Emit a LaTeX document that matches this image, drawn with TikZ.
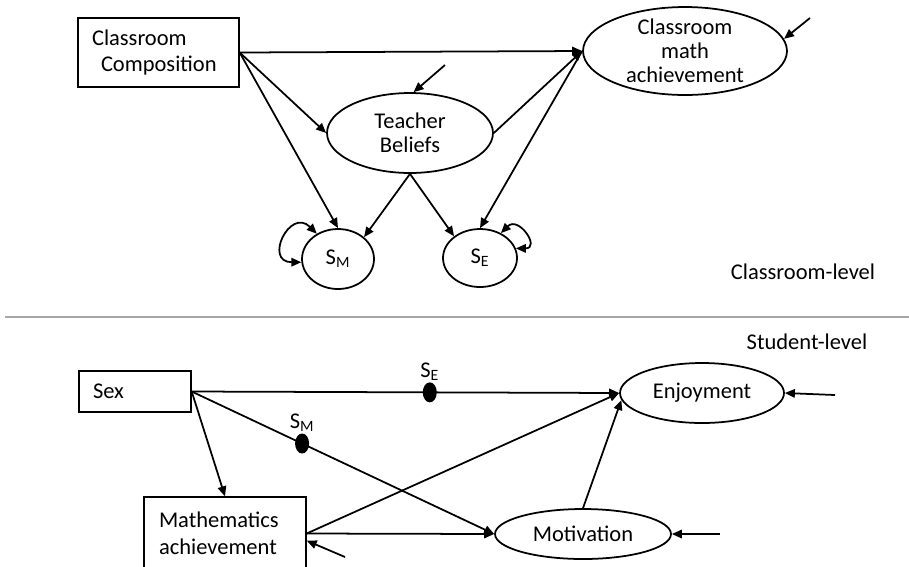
\documentclass[tikz,border=0pt]{standalone}
\usepackage{fontspec}
\setmainfont{Carlito}
\usetikzlibrary{shapes.geometric, arrows.meta}

\tikzset{
  every node/.style={font=\fontsize{12.8}{13.6}\selectfont},
  box/.style={draw, line width=0.8pt, rectangle, align=left, inner ysep=0pt,
    font=\fontsize{12.8}{15.3}\selectfont},
  oval/.style={draw, line width=1pt, ellipse, inner sep=0pt, align=center},
  arr/.style={line width=1pt, -{Triangle[length=0.2cm,width=0.17cm]}},
  dbl/.style={line width=1pt, {Triangle[length=0.2cm,width=0.17cm]}-{Triangle[length=0.2cm,width=0.17cm]}},
  dot/.style={ellipse, fill=black, inner sep=0pt, minimum width=0.28cm, minimum height=0.4cm},
}

\begin{document}
\begin{tikzpicture}[x=0.02cm, y=-0.02cm]
    \useasboundingbox (0,0) rectangle (909,566);
    \clip (0,0) rectangle (909,566);

    % Classroom-level
    \node[box, minimum height=1.38cm, inner xsep=0.28cm, text width=2.66cm] (cc) at (158.5,52.5) {Classroom\\\hspace*{0.18cm}Composition};
    \node[oval, minimum width=3.32cm, minimum height=1.6cm] (tb) at (410,133) {Teacher\\Beliefs};
    \node[oval, minimum width=4.08cm, minimum height=1.76cm, inner ysep=-5pt] (cma) at (685,51) {Classroom\\math\\achievement};
    \node[oval, minimum width=1.44cm, minimum height=1.2cm] (sm) at (338,259) {S\textsubscript{M}};
    \node[oval, minimum width=1.48cm, minimum height=1.16cm] (se) at (480,258) {S\textsubscript{E}};
    \node (lblclass) at (803,272) {Classroom-level};

    \draw[arr] (cc.east) -- (cma.west);
    \draw[arr] (cc.east) -- (tb.west);
    \draw[arr] (cc.east) -- (sm.north);
    \draw[arr] (tb.east) -- (cma.west);
    \draw[arr] (cma.west) -- (se.north);
    \draw[arr] (tb.south) -- (sm.40);
    \draw[arr] (tb.south) -- (se.140);

    % variances of the slopes
    \draw[dbl] (sm.130) to[out=135, in=180, looseness=3] (sm.185);
    \draw[dbl] (se.50) to[out=45, in=0, looseness=3] (se.15);

    % residuals
    \coordinate (dtb) at (445,65);
    \coordinate (dcma) at (810,18);
    \draw[arr] (dtb) -- (tb.85);
    \draw[arr] (dcma) -- (cma.7);

    \draw[gray!70, line width=0.7pt] (5,317) -- (909,317);

    % Student-level
    \node (lblstudent) at (807,342) {Student-level};
    \node[box, minimum height=0.82cm, inner xsep=0.28cm, text width=1.68cm] (sex) at (135,391.5) {Sex};
    \node[box, minimum height=1.46cm, inner xsep=0.3cm, text width=2.64cm] (math) at (225,533.5) {Mathematics\\achievement};
    \node[oval, minimum width=3.28cm, minimum height=1.2cm] (enj) at (702,393) {Enjoyment};
    \node[oval, minimum width=3.52cm, minimum height=1.0cm] (mot) at (583,534) {Motivation};

    % random slopes
    \draw[arr] (sex.east) -- node[dot, pos=0.557, label={[inner sep=0pt]above:S\textsubscript{E}}] (dote) {} (enj.west);
    \draw[arr] (sex.east) -- node[dot, pos=0.365, label={[inner sep=0pt]above:S\textsubscript{M}}] (dotm) {} (mot.west);

    \draw[arr] (sex.east) -- (math.north);
    \draw[arr] (math.east) -- (enj.west);
    \draw[arr] (math.east) -- (mot.west);
    \draw[arr] (mot.north) -- (enj.185);

    % residuals
    \coordinate (denj) at (835,395);
    \coordinate (dmot) at (720,534);
    \coordinate (dmath) at (345,557);
    \draw[arr] (denj) -- (enj.east);
    \draw[arr] (dmot) -- (mot.east);
    \draw[arr] (dmath) -- (math.-5);
\end{tikzpicture}
\end{document}
